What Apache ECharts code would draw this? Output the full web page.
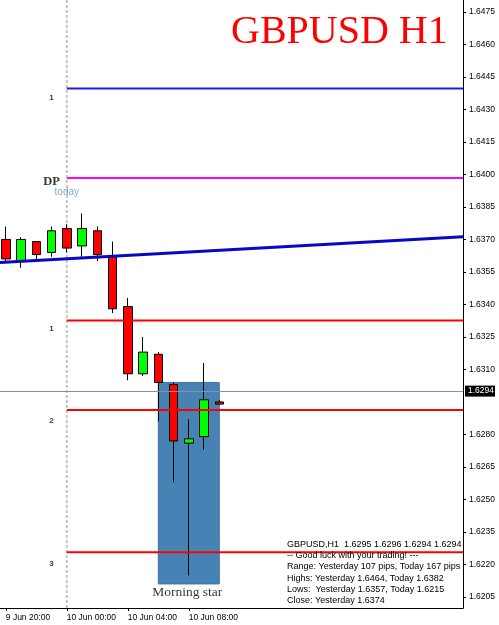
<!DOCTYPE html>
<html><head><meta charset="utf-8">
<script src="https://cdn.jsdelivr.net/npm/echarts@6/dist/echarts.min.js"></script>
<style>html,body{margin:0;padding:0;background:#fff}#c{width:499px;height:625px}</style>
</head><body><div id="c"></div>
<script>
// ---- data ----
const candleIdx = [0,1,2,3,4,5,6,7,8,9,10,11,12,13,14];
const opens  = [1.6370,1.6360,1.6369,1.6364,1.6375,1.6367,1.6374,1.6362,1.6339,1.6308,1.6317,1.6303,1.6276,1.6279,1.6295];
const highs  = [1.6376,1.6371,1.6369,1.6376,1.6377,1.6382,1.6376,1.6369,1.6343,1.6325,1.6318,1.6304,1.6287,1.6313,1.6296];
const lows   = [1.6360,1.6357,1.6361,1.6362,1.6364,1.6362,1.6360,1.6336,1.6305,1.6307,1.6286,1.6258,1.6215,1.6273,1.6294];
const closes = [1.6361,1.6370,1.6363,1.6374,1.6366,1.6375,1.6363,1.6338,1.6308,1.6318,1.6304,1.6277,1.6278,1.6296,1.6294];

const xTickIdx = [0,4,8,12];
const xTickLabels = ['9 Jun 20:00','10 Jun 00:00','10 Jun 04:00','10 Jun 08:00'];
const yTicks = [1.6205,1.6220,1.6235,1.6250,1.6265,1.6280,1.6310,1.6325,1.6340,1.6355,1.6370,1.6385,1.6400,1.6415,1.6430,1.6445,1.6460,1.6475];
const xMin = -0.38, xMax = 29.98, yMin = 1.61999, yMax = 1.64805;

const levelNames  = ['1','DP','1','2','3'];
const levelPrices = [1.64396,1.63983,1.63326,1.62913,1.62256];
const todayIdx = 4;
const todayText = 'today';
const labelIdx = 3;

const bidPrice = 1.6294;
const trendX = [-0.38, 29.98];
const trendY = [1.63593, 1.63712];

const patternX = [10, 14];
const patternY = [1.6304, 1.6211];
const patternName = 'Morning star';

const titleText = 'GBPUSD H1';
const infoLines = [
  'GBPUSD,H1  1.6295 1.6296 1.6294 1.6294',
  '-- Good luck with your trading! ---',
  'Range: Yesterday 107 pips, Today 167 pips',
  'Highs: Yesterday 1.6464, Today 1.6382',
  'Lows:  Yesterday 1.6357, Today 1.6215',
  'Close: Yesterday 1.6374'
];

// ---- styles ----
const levelColors = ['#1c1ce8','#ff00ff','#ff0000','#ff0000','#ff0000'];
const levelLabelOffsets = [9, 4, 8, 11, 11];

const chart = echarts.init(document.getElementById('c'), null, {renderer:'canvas'});

const candleData = candleIdx.map((x,i)=>[x, opens[i], closes[i], lows[i], highs[i]]);

const levelSeries = levelPrices.map((p,i)=>({
  type:'line', silent:true, symbol:'none', z:6,
  data:[[todayIdx,p],[xMax,p]],
  lineStyle:{color:levelColors[i], width:2}
}));

const labelData = levelPrices.map((p,i)=>({
  value:[labelIdx,p],
  label:{
    formatter:levelNames[i], offset:[0,levelLabelOffsets[i]],
    fontFamily: levelNames[i]==='DP' ? 'Liberation Serif' : 'Liberation Sans',
    fontSize: levelNames[i]==='DP' ? 12.5 : 8,
    fontWeight:'bold', color:'#000'
  }
}));
labelData.push({
  value:[todayIdx, levelPrices[1]],
  label:{formatter:todayText, offset:[0,14], fontFamily:'Liberation Sans', fontSize:10, color:'#5b9ac6'}
});
labelData.push({
  value:[(patternX[0]+patternX[1])/2 - 0.1, patternY[1]],
  label:{formatter:patternName, offset:[0,9], fontFamily:'Liberation Serif', fontSize:13.5, color:'#000'}
});

chart.setOption({
  animation:false,
  backgroundColor:'#fff',
  grid:{left:0, right:36, top:0, bottom:17},
  xAxis:{
    type:'value', min:xMin, max:xMax,
    splitLine:{show:false},
    axisLine:{onZero:false, lineStyle:{color:'#000', width:1}},
    axisTick:{customValues:xTickIdx, length:3, lineStyle:{color:'#000'}},
    axisLabel:{
      customValues:xTickIdx, align:'left', margin:5,
      fontFamily:'Liberation Sans', fontSize:8.5, color:'#000',
      formatter:v=>xTickLabels[xTickIdx.indexOf(v)] || ''
    }
  },
  yAxis:{
    type:'value', position:'right', min:yMin, max:yMax, scale:true,
    splitLine:{show:false},
    axisLine:{show:true, onZero:false, lineStyle:{color:'#000', width:1}},
    axisTick:{show:true, customValues:yTicks, length:3, lineStyle:{color:'#000'}},
    axisLabel:{
      customValues:yTicks, margin:6,
      fontFamily:'Liberation Sans', fontSize:8.5, color:'#000',
      formatter:v=>v.toFixed(4)
    }
  },
  series:[
    {
      type:'custom', silent:true, z:1,
      renderItem:(params, api)=>{
        const p0 = api.coord([patternX[0], patternY[0]]);
        const p1 = api.coord([patternX[1], patternY[1]]);
        return {type:'rect', shape:{x:p0[0], y:p0[1], width:p1[0]-p0[0], height:p1[1]-p0[1]},
                style:{fill:'#4682b4', stroke:'#3f74a2', lineWidth:1}};
      },
      data:[[patternX[0], patternY[0]]]
    },
    {
      type:'line', silent:true, symbol:'none', z:2,
      data:[[todayIdx,yMin],[todayIdx,yMax]],
      lineStyle:{color:'#c4c4c4', width:2, type:[3,2]}
    },
    {
      type:'candlestick', z:4, barWidth:9,
      encode:{x:0, y:[1,2,3,4]},
      data:candleData,
      itemStyle:{color:'#00ff00', color0:'#ff0000', borderColor:'#000', borderColor0:'#000', borderColorDoji:'#000', borderWidth:1}
    },
    ...levelSeries,
    {
      type:'line', silent:true, symbol:'none', z:7,
      data:trendX.map((x,i)=>[x,trendY[i]]),
      lineStyle:{color:'#0808c4', width:3}
    },
    {
      type:'line', silent:true, symbol:'none', z:8, data:[],
      markLine:{
        silent:true, symbol:'none', animation:false,
        lineStyle:{color:'#8193a6', width:1, type:'solid'},
        label:{show:true, position:'end', distance:2, formatter:bidPrice.toFixed(4),
               backgroundColor:'#000', color:'#fff', fontFamily:'Liberation Sans', fontSize:8.5, padding:[1,1,1,3]},
        data:[{yAxis:bidPrice}]
      }
    },
    {
      type:'scatter', silent:true, z:9, symbolSize:1,
      itemStyle:{color:'rgba(0,0,0,0)'},
      label:{show:true, position:'inside'},
      data:labelData
    }
  ],
  graphic:[
    {type:'text', left:231, top:12, z:100,
     style:{text:titleText, fill:'#ff0000', font:'40px "Liberation Serif"'}},
    {type:'text', left:287, top:539, z:100,
     style:{text:infoLines.join('\n'), fill:'#000', font:'9px "Liberation Sans"', lineHeight:11.2}}
  ]
});
</script></body></html>
